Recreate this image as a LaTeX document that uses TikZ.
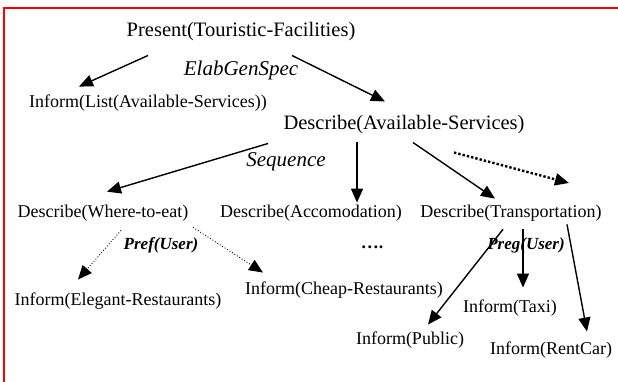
\documentclass[tikz,border=0pt]{standalone}
\usepackage{fontspec}
\setmainfont{Liberation Serif}
\usetikzlibrary{arrows.meta}

\begin{document}
\begin{tikzpicture}[
  x=1pt,y=-1pt,
  act/.style={inner sep=0pt,font=\fontsize{18}{21}\selectfont},
  topact/.style={inner sep=0pt,font=\fontsize{20.5}{24}\selectfont},
  rel/.style={inner sep=0pt,font=\fontsize{21}{24}\selectfont\itshape},
  pref/.style={inner sep=0pt,font=\fontsize{17}{20}\selectfont\bfseries\itshape},
  flow/.style={-{Triangle[length=14pt,width=12pt]},line width=1.4pt},
  option/.style={-{Triangle[length=14pt,width=12pt]},line width=0.9pt,dotted},
  more/.style={-{Triangle[length=14pt,width=12pt]},line width=2.4pt,dotted}
]
\useasboundingbox (0,0) rectangle (618,382);
% frame
\draw[red,line width=2pt] (618,8) -- (4,8) -- (4,382);

% plan nodes
\node[topact] (present) at (241,32) {Present(Touristic-Facilities)};
\node[rel] (elab) at (241,70) {ElabGenSpec};
\node[act] (listsvc) at (148,103) {Inform(List(Available-Services))};
\node[topact] (availsvc) at (404,125) {Describe(Available-Services)};
\node[rel] (seq) at (286,162) {Sequence};
\node[act] (whereeat) at (103,213) {Describe(Where-to-eat)};
\node[act] (accom) at (311,213) {Describe(Accomodation)};
\node[act] (transp) at (511,213) {Describe(Transportation)};
\node[pref] (prefeat) at (161,245) {Pref(User)};
\node[act,font=\fontsize{18}{21}\selectfont\bfseries] (etcdots) at (372,247) {….};
\node[pref] (preftransp) at (526,245) {Preg(User)};
\node[act] (elegant) at (118,301) {Inform(Elegant-Restaurants)};
\node[act] (cheap) at (344,290) {Inform(Cheap-Restaurants)};
\node[act] (taxi) at (510,308) {Inform(Taxi)};
\node[act] (public) at (410,340) {Inform(Public)};
\node[act] (rentcar) at (551,350) {Inform(RentCar)};
\coordinate (etc) at (569,183);

% links
\draw[flow] ([shift={(-93,14)}]present.south) -- ([shift={(-69,-8)}]listsvc.north);
\draw[flow] ([shift={(51,14)}]present.south) -- ([shift={(-19,-14)}]availsvc.north);
\draw[flow] ([shift={(-136,9)}]availsvc.south) -- ([shift={(4,-13)}]whereeat.north);
\draw[flow] ([shift={(-47,8)}]availsvc.south) -- ([shift={(46,-2)}]accom.north);
\draw[flow] ([shift={(9,8)}]availsvc.south) -- ([shift={(-16,-6)}]transp.north);
\draw[more] ([shift={(50,18)}]availsvc.south) -- (etc);
\draw[option] ([shift={(18,9)}]whereeat.south) -- ([shift={(-40,-13)}]elegant.north);
\draw[option] ([shift={(90,6)}]whereeat.south) -- ([shift={(-81,-9)}]cheap.north);
\draw[flow] ([shift={(-8,8)}]transp.south) -- ([shift={(18,-7)}]public.north);
\draw[flow] ([shift={(12,8)}]transp.south) -- ([shift={(13,-12)}]taxi.north);
\draw[flow] ([shift={(56,3)}]transp.south) -- ([shift={(36,-10)}]rentcar.north);
\end{tikzpicture}
\end{document}
